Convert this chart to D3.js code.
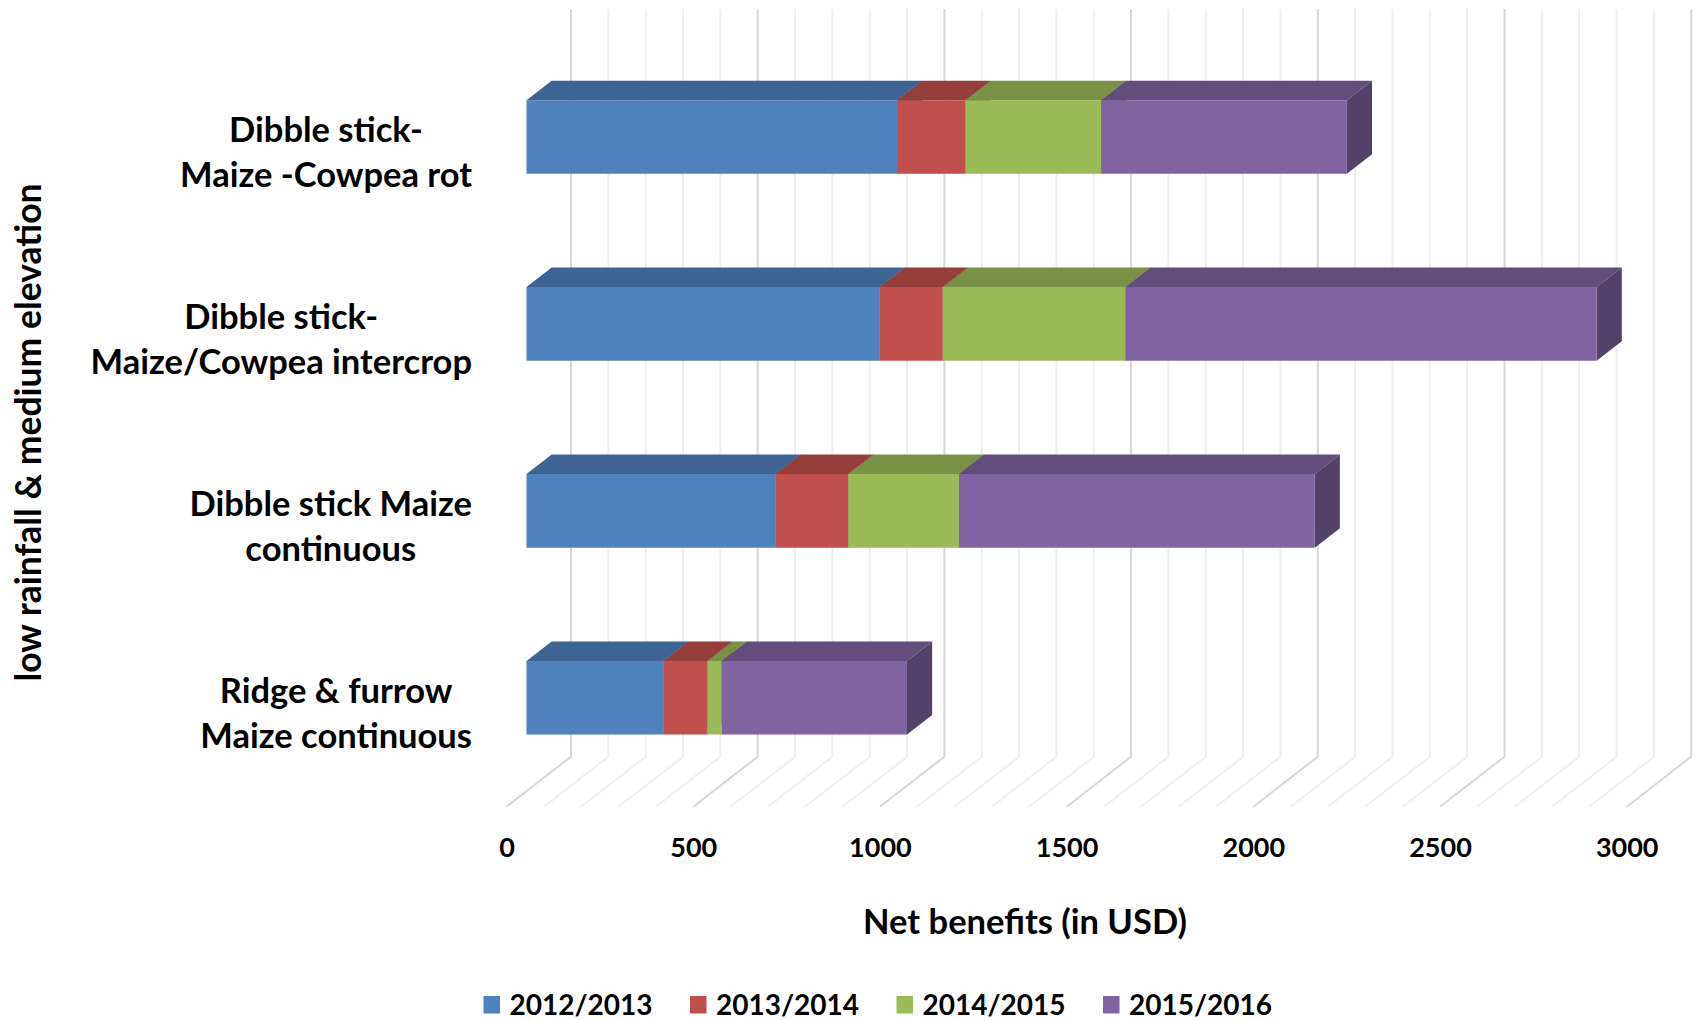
<!DOCTYPE html>
<html><head><meta charset="utf-8">
<script src="https://cdn.jsdelivr.net/npm/d3@7"></script>
<style>
html,body{margin:0;padding:0;background:#fff;}
svg{display:block;}
text{font-family:Lato,"Open Sans",sans-serif;font-weight:bold;fill:#000;}
</style></head>
<body>
<svg id="chart" width="1696" height="1020"></svg>
<script>
// ---------- data ----------
const categories = [
  ["Dibble stick-", "Maize -Cowpea rot"],
  ["Dibble stick-", "Maize/Cowpea intercrop"],
  ["Dibble stick Maize", "continuous"],
  ["Ridge & furrow", "Maize continuous"]
];
const seriesNames = ["2012/2013", "2013/2014", "2014/2015", "2015/2016"];
const s2012 = [993, 946, 667, 367];
const s2013 = [183, 169, 195, 118];
const s2014 = [363, 489, 296, 38];
const s2015 = [658, 1262, 953, 496];
const seriesValues = [s2012, s2013, s2014, s2015];
const tickLabels = [0, 500, 1000, 1500, 2000, 2500, 3000];
const colors = ["#4F81BD", "#C0504D", "#9BBB59", "#8064A2"];
const yTitle = "low rainfall & medium elevation";
const xTitle = "Net benefits (in USD)";

// ---------- layout ----------
const svg = d3.select("#chart");
const X0 = 506.5, DX = 64.5, DY = 50;          // oblique projection
const FRONT_Y = 806.7, TOP_Y = 59;
const x = d3.scaleLinear().domain([0, 3000]).range([0, 1120.2]);
const catKeys = categories.map((c, i) => i);
const y = d3.scaleBand().domain(catKeys).range([TOP_Y, FRONT_Y]).padding(0);
const Z0 = 0.31, Z1 = 0.70;
const barFrac = 0.394;

function P(v, yc, z) { return [X0 + x(v) + z * DX, yc - z * DY]; }
function poly(pts) { return "M" + pts.map(p => p.join(",")).join("L") + "Z"; }

// ---------- gridlines (floor + back wall) ----------
const grid = svg.append("g");
const gridVals = d3.range(0, 3001, 100);
gridVals.forEach(v => {
  const major = v % 500 === 0;
  const a = P(v, FRONT_Y, 0), b = P(v, FRONT_Y, 1), c = P(v, TOP_Y, 1);
  grid.append("path")
    .attr("d", "M" + a + "L" + b + "L" + c)
    .attr("fill", "none")
    .attr("stroke", major ? "#d6d6d6" : "#eeeeee")
    .attr("stroke-width", 2);
});

// ---------- bars ----------
const stack = d3.stack().keys(d3.range(seriesNames.length))
  .value((i, k) => seriesValues[k][i]);
const stacked = stack(catKeys);

const bars = svg.append("g");
catKeys.forEach(ci => {
  const bh = y.bandwidth() * barFrac;
  const yt = y(ci) + (y.bandwidth() - bh) / 2;
  const yb = yt + bh;
  stacked.forEach((layer, si) => {
    const v0 = layer[ci][0], v1 = layer[ci][1];
    const col = d3.color(colors[si]);
    const topC = col.darker(0.72).formatHex();
    const sideC = col.darker(1.2).formatHex();
    const g = bars.append("g");
    g.append("path").attr("d", poly([P(v0, yt, Z0), P(v1, yt, Z0), P(v1, yt, Z1), P(v0, yt, Z1)]))
      .attr("fill", topC);
    g.append("path").attr("d", poly([P(v1, yt, Z0), P(v1, yt, Z1), P(v1, yb, Z1), P(v1, yb, Z0)]))
      .attr("fill", sideC);
    g.append("path").attr("d", poly([P(v0, yt, Z0), P(v1, yt, Z0), P(v1, yb, Z0), P(v0, yb, Z0)]))
      .attr("fill", colors[si]);
  });
});

// ---------- category labels ----------
const labG = svg.append("g");
catKeys.forEach(ci => {
  const cy = y(ci) + y.bandwidth() / 2;
  const lines = categories[ci];
  const ts = lines.map((t, li) => labG.append("text")
    .attr("font-size", 34.5)
    .attr("text-anchor", "middle")
    .attr("y", cy - 10.5 + li * 45)
    .text(t));
  const maxW = d3.max(ts, t => t.node().getComputedTextLength());
  ts.forEach(t => t.attr("x", 472 - maxW / 2));
});

// ---------- x axis tick labels ----------
const axG = svg.append("g").attr("transform", `translate(${X0},${FRONT_Y})`)
  .call(d3.axisBottom(x).tickValues(tickLabels).tickSize(0).tickPadding(31).tickFormat(d3.format("d")));
axG.select(".domain").remove();
axG.selectAll("text").attr("font-size", 27).attr("font-family", "Lato, sans-serif").attr("font-weight", "bold").attr("fill", "#000");

// ---------- axis titles ----------
svg.append("text").attr("x", 1025).attr("y", 934).attr("text-anchor", "middle")
  .attr("font-size", 34.5).text(xTitle);
svg.append("text").attr("transform", "translate(41,432.5) rotate(-90)")
  .attr("text-anchor", "middle").attr("font-size", 35.5).text(yTitle);

// ---------- legend ----------
const leg = svg.append("g");
seriesNames.forEach((n, i) => {
  const lx = 483.5 + i * 206.5;
  leg.append("rect").attr("x", lx).attr("y", 996).attr("width", 16.5).attr("height", 17.5).attr("fill", colors[i]);
  leg.append("text").attr("x", lx + 26).attr("y", 1015).attr("font-size", 28).text(n);
});
</script>
</body></html>
